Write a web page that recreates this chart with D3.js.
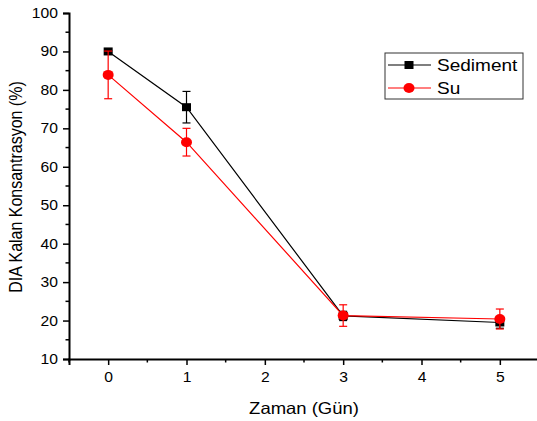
<!DOCTYPE html>
<html><head><meta charset="utf-8">
<script src="https://cdn.jsdelivr.net/npm/d3@7/dist/d3.min.js"></script>
<style>body{margin:0;background:#fff}svg{display:block}text{font-family:"Liberation Sans",Arial,sans-serif}</style>
</head><body>
<script>
const days = [0, 1, 3, 5];
const sediment = [90.0, 75.5, 21.2, 19.5];
const sedimentErr = [0.3, 4.1, 1.2, 1.5];
const su = [83.9, 66.4, 21.3, 20.4];
const suErr = [6.2, 3.6, 2.8, 2.6];
const xTicks = [0, 1, 2, 3, 4, 5];
const yTicks = [10, 20, 30, 40, 50, 60, 70, 80, 90, 100];
const seriesNames = ["Sediment", "Su"];

const SX = 1.12; // horizontal stretch of text in the reference
const W = 537, H = 421;
const svg = d3.select("body").append("svg").attr("width", W).attr("height", H);
const x = d3.scaleLinear().domain([-0.5, 5.5]).range([69, 539]);
const y = d3.scaleLinear().domain([10, 100]).range([359, 13]);

// axes
const xAxis = d3.axisBottom(x).tickValues(xTicks).tickFormat(d3.format("d")).tickSize(6).tickPadding(7);
const gx = svg.append("g").attr("transform", `translate(0,${y(10)})`).call(xAxis);
gx.selectAll(".tick text").attr("font-size", 14).attr("fill", "#000")
  .attr("transform", `scale(${SX},1)`);
gx.append("g").selectAll("line").data(d3.range(-0.5, 5.6, 1)).join("line")
  .attr("x1", d => x(d)).attr("x2", d => x(d)).attr("y1", 0).attr("y2", 3.5).attr("stroke", "#000").attr("stroke-width", 1.5);
const yAxis = d3.axisLeft(y).tickValues(yTicks).tickSize(6).tickPadding(5);
const gy = svg.append("g").attr("transform", `translate(${x(-0.5)},0)`).call(yAxis);
gy.selectAll(".tick text").attr("font-size", 14).attr("fill", "#000")
  .attr("x", 0).attr("transform", `translate(-11,0) scale(${SX},1)`);
gy.append("g").selectAll("line").data(d3.range(15, 100, 10)).join("line")
  .attr("x1", 0).attr("x2", -3.5).attr("y1", d => y(d)).attr("y2", d => y(d)).attr("stroke", "#000").attr("stroke-width", 1.5);
[gx, gy].forEach(g => { g.select(".domain").attr("stroke-width", 2).attr("stroke", "#000"); g.selectAll(".tick line").attr("stroke-width", 1.5).attr("stroke", "#000"); });

svg.append("text").attr("transform", `translate(304,414) scale(${SX},1)`).attr("text-anchor", "middle").attr("font-size", 16.5).text("Zaman (Gün)");
svg.append("text").attr("transform", `translate(22,187) scale(${SX},1) rotate(-90)`).attr("text-anchor", "middle").attr("font-size", 16).text("DIA Kalan Konsantrasyon (%)");

function series(vals, errs, color, shape) {
  const g = svg.append("g");
  const pts = days.map((d, i) => ({d, v: vals[i], e: errs[i]}));
  g.append("path").datum(pts).attr("fill", "none").attr("stroke", color).attr("stroke-width", 1.2)
    .attr("d", d3.line().x(p => x(p.d)).y(p => y(p.v)));
  const eb = g.selectAll(".eb").data(pts).join("g");
  eb.append("line").attr("x1", p => x(p.d)).attr("x2", p => x(p.d)).attr("y1", p => y(p.v - p.e)).attr("y2", p => y(p.v + p.e)).attr("stroke", color).attr("stroke-width", 1.2);
  eb.append("line").attr("x1", p => x(p.d) - 4).attr("x2", p => x(p.d) + 4).attr("y1", p => y(p.v - p.e)).attr("y2", p => y(p.v - p.e)).attr("stroke", color).attr("stroke-width", 1.2);
  eb.append("line").attr("x1", p => x(p.d) - 4).attr("x2", p => x(p.d) + 4).attr("y1", p => y(p.v + p.e)).attr("y2", p => y(p.v + p.e)).attr("stroke", color).attr("stroke-width", 1.2);
  if (shape === "square") {
    g.selectAll("rect.m").data(pts).join("rect").attr("x", p => x(p.d) - 4.5).attr("y", p => y(p.v) - 4).attr("width", 9).attr("height", 8).attr("fill", color);
  } else {
    g.selectAll("ellipse.m").data(pts).join("ellipse").attr("cx", p => x(p.d)).attr("cy", p => y(p.v)).attr("rx", 5.5).attr("ry", 5).attr("fill", color);
  }
}
series(sediment, sedimentErr, "#000", "square");
series(su, suErr, "#ff0000", "circle");

// legend
const lg = svg.append("g");
lg.append("rect").attr("x", 385).attr("y", 53).attr("width", 138).attr("height", 46).attr("fill", "#fff").attr("stroke", "#333").attr("stroke-width", 1);
const cols = ["#000", "#ff0000"];
seriesNames.forEach((n, i) => {
  const yy = 65 + i * 23;
  lg.append("line").attr("x1", 388).attr("x2", 431).attr("y1", yy).attr("y2", yy).attr("stroke", cols[i]).attr("stroke-width", 1.2);
  if (i === 0) lg.append("rect").attr("x", 404.5).attr("y", yy - 4).attr("width", 9).attr("height", 8).attr("fill", cols[i]);
  else lg.append("ellipse").attr("cx", 409).attr("cy", yy).attr("rx", 5.5).attr("ry", 5).attr("fill", cols[i]);
  lg.append("text").attr("transform", `translate(437,${yy + 6}) scale(${SX},1)`).attr("font-size", 17).text(n);
});
</script>
</body></html>
